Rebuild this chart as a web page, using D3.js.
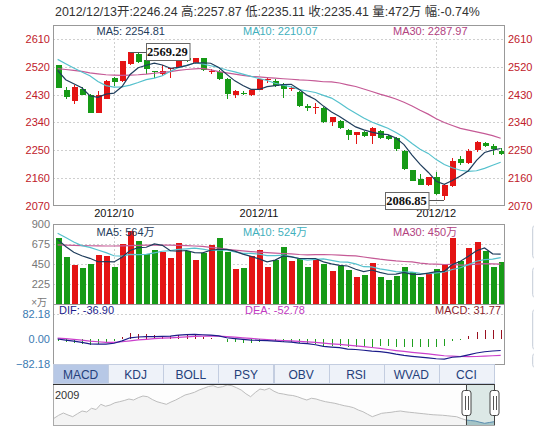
<!DOCTYPE html>
<html>
<head>
<meta charset="utf-8">
<script src="https://cdn.jsdelivr.net/npm/d3@7"></script>
<style>
  body { margin: 0; background: #fff; }
  svg { display: block; }
  text { font-family: "Liberation Sans", Arial, "Noto Sans CJK SC", sans-serif; }
</style>
</head>
<body>
<svg id="chart" width="534" height="429"></svg>
<script>
// ---- daily K-line data ----
const dates = ["2012/09/20","2012/09/21","2012/09/24","2012/09/25","2012/09/26","2012/09/27","2012/09/28",
  "2012/10/08","2012/10/09","2012/10/10","2012/10/11","2012/10/12","2012/10/15","2012/10/16","2012/10/17","2012/10/18","2012/10/19",
  "2012/10/22","2012/10/23","2012/10/24","2012/10/25","2012/10/26","2012/10/29","2012/10/30","2012/10/31",
  "2012/11/01","2012/11/02","2012/11/05","2012/11/06","2012/11/07","2012/11/08","2012/11/09","2012/11/12","2012/11/13","2012/11/14",
  "2012/11/15","2012/11/16","2012/11/19","2012/11/20","2012/11/21","2012/11/22","2012/11/23","2012/11/26","2012/11/27","2012/11/28",
  "2012/11/29","2012/11/30","2012/12/03","2012/12/04","2012/12/05","2012/12/06","2012/12/07","2012/12/10","2012/12/11","2012/12/12","2012/12/13"];

const open = [2525,2445,2408,2447,2427,2371,2417,2482,2475,2530,2562,2541,2506,2495,2512,2518,2549,2531,2547,2504,
  2502,2480,2427,2436,2428,2446,2476,2474,2464,2447,2438,2394,2387,2387,2341,2345,2316,2300,2310,2297,
  2311,2297,2290,2248,2184,2155,2136,2164,2100,2132,2220,2207,2249,2272,2262,2246.24];
const high = [2527,2454,2462,2454,2432,2440,2476,2487,2540,2569.29,2565,2546,2507,2525,2517,2552,2554,2550,2550,2512,
  2508,2482,2445,2441,2446,2481,2484,2481,2468,2458,2441,2400,2401,2389,2358,2348,2318,2310,2313,2323,
  2314,2299,2292,2250,2186,2173,2164,2178,2140,2224,2230,2252,2278,2277,2268,2257.87];
const low = [2450,2416,2400,2427,2370,2370,2415,2456,2470,2525,2533,2497,2482,2490,2484,2515,2537,2528,2505,2496,
  2476,2415,2419,2430,2426,2444,2468,2454,2418,2440,2391,2376,2366,2339,2327,2318,2282,2270,2292,2271,
  2285,2284,2248,2186,2148,2136,2132,2104,2086.85,2130,2200,2205,2245,2260,2235,2235.11];
const close = [2452,2422,2454,2430,2371,2427,2474,2469,2538,2567,2537,2514,2504,2506,2515,2550,2543,2547,2510,2507,
  2480,2433,2441,2434,2445,2479,2479,2458,2449,2451,2393,2385,2391,2342,2356,2320,2298,2308,2294,2321,
  2290,2287,2252,2188,2151,2138,2161,2106,2137,2214,2209,2248,2275,2263.5,2252.1,2235.41];
const prevClose = 2252.1;   // close of the session before the last one

// price moving averages
const ma5 = [2508,2478,2465,2452,2425.8,2420.8,2431.2,2434.2,2455.8,2495,2517,2525,2532,2525.6,2515.2,2517.8,2523.6,2532.2,2533,2531.4,
  2517.4,2495.4,2474.2,2459,2446.6,2446.4,2455.6,2459,2462,2463.2,2446,2427.2,2413.8,2392.4,2373.4,2358.8,2341.4,2324.8,2315.2,2308.2,
  2302.2,2300,2288.8,2267.6,2233.6,2203.2,2178,2148.8,2138.6,2151.2,2165.4,2182.8,2216.6,2241.9,2249.5,2254.81];
const ma10 = [2544,2530,2516,2503,2491,2472,2459,2454,2455,2460.4,2468.9,2478.1,2483.1,2490.7,2505.1,2517.4,2524.3,2532.1,2529.3,2523.3,
  2517.6,2509.5,2503.2,2496,2489,2481.9,2475.5,2466.6,2460.5,2454.9,2446.2,2441.4,2436.4,2427.2,2418.3,2402.4,2384.3,2369.3,2353.8,2340.8,
  2330.5,2320.7,2306.8,2291.4,2270.9,2252.7,2239,2218.8,2203.1,2192.4,2184.3,2180.4,2182.7,2190.3,2200.4,2210.07];
const ma30 = [2514,2511,2508,2505,2500,2497,2494,2493,2492,2493,2494,2496,2499,2502,2504,2508,2511,2513,2515,2510,
  2504,2500,2496,2492,2489,2487,2485,2483,2481,2479.5,2477.6,2476.3,2474.2,2471.3,2470.8,2467.2,2461.4,2456,2447.9,2439.7,
  2431.4,2423.9,2415.5,2404.9,2392.7,2379,2366.3,2351.6,2339.1,2329.4,2320.3,2314.2,2308.6,2303,2296.5,2287.97];

// volume (万) and its moving averages
const volume = [749,532,442,405,453,555,540,420,678,828,716,562,611,592,525,690,600,498,577,671,
  746,592,397,412,540,611,420,498,645,487,521,420,495,457,378,431,386,307,330,468,
  300,273,318,420,363,300,345,397,440,745,487,633,700,595,420,472];
const volMa5 = [730,650,585,545,516,477,479,475,529,604,636,641,679,662,601,596,604,581,578,607,
  618,617,597,564,537,510,476,496,543,532,514,514,514,476,454,436,429,392,366,384,
  358,336,338,356,335,335,349,365,369,445,483,540,601,632,567,564];
const volMa10 = [798,750,700,660,640,610,580,545,540,560,557,560,577,596,603,616,622,630,620,604,
  607,610,589,571,572,564,546,546,553,535,512,495,505,509,493,475,472,453,421,419,
  397,383,365,361,360,347,342,351,362,390,409,445,483,501,506,524];
const volMa30 = [667,665,662,660,658,656,655,655,657,660,662,664,665,665,664,662,660,655,650,640,
  630,618,608,600,592,585,580,575,570,566,559,555,557,559,556,552,547,543,531,519,
  506,496,486,480,475,462,454,450,446,448,439,441,451,457,453,450];

// MACD indicator
const dea = [4,2,0,-3,-6,-8,-10,-10,-8,-5,-2,0,2,4,5,6.5,8,9.5,10.5,11,
  10.5,9,7,5,3,1,-1,-2.5,-4,-5.5,-7,-8.5,-10,-12.5,-15,-17,-19,-21.5,-24,-27,
  -30,-33.5,-37,-40,-43,-45.5,-48,-51,-54,-55.5,-56.5,-57,-56.5,-55.5,-54,-52.78];
const dif = [1,-3,-6,-10,-15,-16,-16,-13,-5,5,7.5,9,9,9.5,10.5,14,15.5,16,15,13.5,
  11,5,2,-0.5,-2.5,-3.5,-4.5,-6,-8,-9.5,-12.5,-14,-18,-23,-25.5,-27.5,-32,-33.5,-36,-39,
  -40.5,-44,-49,-53,-56,-58.5,-61,-64,-65,-59,-57,-51,-45,-41,-38.5,-36.90];
const macd = [-6,-10,-12,-14,-18,-16,-12,-6,6,20,19,18,14,11,11,15,15,13,9,5,
  1,-8,-10,-11,-11,-9,-7,-7,-8,-8,-11,-11,-16,-21,-21,-21,-26,-24,-24,-24,
  -21,-21,-24,-26,-26,-26,-26,-26,-22,-7,-1,12,23,29,31,31.77];

// axis ticks
const priceTicks = [2070, 2160, 2250, 2340, 2430, 2520, 2610];
const volTicks = [225, 450, 675, 900];
const macdTicks = [-82.18, 0, 82.18];

// indicator tabs and long-range navigator history
const tabs = ["MACD", "KDJ", "BOLL", "PSY", "OBV", "RSI", "WVAD", "CCI"];
const activeTab = "MACD";
const navStartYear = "2009";
const navHistory = [2168,2290,2380,2300,2232,2350,2460,2420,2568,2520,2728,2650,2700,2790,2832,2880,2940,2900,2992,3060,
  3032,2920,2832,2780,2728,2820,2900,3000,3100,3150,3208,3300,3368,3440,3472,3400,3432,3500,3472,3390,
  3300,3150,3032,3200,3340,3300,3368,3250,3168,3140,3100,3080,3032,2960,2900,2970,2940,2880,2832,2800,
  2768,2720,2672,2640,2592,2500,2432,2330,2232,2300,2368,2390,2408,2440,2460,2430,2408,2390,2368,2350,
  2328,2310,2300,2290,2272,2250,2232,2160,2100,2080,2060,2010,1968,2000,2032];
const navWindowStart = 88;  // first navHistory point of the zoomed window

// ---- styling ----
const RED = "#e41414", GREEN = "#169a16";
const C_MA5 = "#1f3d5c", C_MA10 = "#55c1cd", C_MA30 = "#c55a96";
const C_DIF = "#1c1c8a", C_DEA = "#cc40cc";
const GRID = "#cfcfcf", BORDER = "#999";
const CJK = '"Liberation Sans", Arial, "Noto Sans CJK SC", sans-serif';

const svg = d3.select("#chart");
const L = 53, R = 505;
const n = dates.length;

const x = d3.scaleBand().domain(d3.range(n)).range([53.6, 504.7]).paddingInner(0.22).paddingOuter(0.11);
const cx = i => x(i) + x.bandwidth() / 2;

const yP = d3.scaleLinear().domain([2070, 2610]).range([205.5, 39]);
const yV = d3.scaleLinear().domain([0, 900]).range([304, 224.3]);
const yM = d3.scaleLinear().domain([-82.18, 82.18]).range([364.3, 314.3]);

const up = i => close[i] >= open[i];
const monthStarts = d3.range(1, n).filter(i => dates[i].slice(0, 7) !== dates[i - 1].slice(0, 7));

// ---- header line ----
const last = n - 1;
const pct = (close[last] - prevClose) / prevClose * 100;
svg.append("text")
  .attr("x", 55).attr("y", 16)
  .attr("font-size", 12.4).attr("fill", "#333")
  .style("font-family", CJK)
  .text(`${dates[last]}开:${open[last].toFixed(2)} 高:${high[last].toFixed(2)} 低:${low[last].toFixed(2)} 收:${close[last].toFixed(2)} 量:${volume[last]}万 幅:${pct.toFixed(2)}%`);

// ---- gridlines ----
function hGrid(scale, ticks) {
  svg.append("g").selectAll("line").data(ticks).join("line")
    .attr("x1", L).attr("x2", R)
    .attr("y1", d => Math.round(scale(d)) + 0.5).attr("y2", d => Math.round(scale(d)) + 0.5)
    .attr("stroke", GRID).attr("stroke-dasharray", "2,2");
}
function vGrid(y0, y1) {
  svg.append("g").selectAll("line").data(monthStarts).join("line")
    .attr("x1", i => Math.round(cx(i)) + 0.5).attr("x2", i => Math.round(cx(i)) + 0.5)
    .attr("y1", y0).attr("y2", y1)
    .attr("stroke", GRID).attr("stroke-dasharray", "2,2");
}
hGrid(yP, priceTicks.slice(1, -1).concat([2610]));
vGrid(26, 205);
hGrid(yV, [225, 450, 675]);
vGrid(225, 304);
hGrid(yM, [82.18]);

// ---- candlesticks ----
const candles = svg.append("g").attr("shape-rendering", "crispEdges");
candles.selectAll("line").data(d3.range(n)).join("line")
  .attr("x1", i => Math.round(cx(i)) + 0.5).attr("x2", i => Math.round(cx(i)) + 0.5)
  .attr("y1", i => yP(high[i])).attr("y2", i => yP(low[i]))
  .attr("stroke", i => up(i) ? RED : GREEN);
candles.selectAll("rect").data(d3.range(n)).join("rect")
  .attr("x", i => Math.round(cx(i)) - 2.5).attr("width", 6)
  .attr("y", i => yP(Math.max(open[i], close[i])))
  .attr("height", i => Math.max(1, yP(Math.min(open[i], close[i])) - yP(Math.max(open[i], close[i]))))
  .attr("fill", i => up(i) ? RED : GREEN);

// price MA lines
const priceLine = d3.line().x((d, i) => cx(i)).y(d => yP(d));
[[ma30, C_MA30], [ma10, C_MA10], [ma5, C_MA5]].forEach(([arr, c]) => {
  svg.append("path").attr("d", priceLine(arr)).attr("fill", "none").attr("stroke", c).attr("stroke-width", 1.2);
});

// ---- volume bars ----
svg.append("g").attr("shape-rendering", "crispEdges")
  .selectAll("rect").data(d3.range(n)).join("rect")
  .attr("x", i => Math.round(cx(i)) - 2.5).attr("width", 6.5)
  .attr("y", i => yV(volume[i])).attr("height", i => yV(0) - yV(volume[i]))
  .attr("fill", i => up(i) ? RED : GREEN);
const volLine = d3.line().x((d, i) => cx(i)).y(d => yV(d));
[[volMa30, C_MA30], [volMa10, C_MA10], [volMa5, C_MA5]].forEach(([arr, c]) => {
  svg.append("path").attr("d", volLine(arr)).attr("fill", "none").attr("stroke", c).attr("stroke-width", 1.2);
});

// ---- MACD ----
svg.append("g").attr("shape-rendering", "crispEdges")
  .selectAll("line").data(d3.range(n)).join("line")
  .attr("x1", i => Math.round(cx(i)) + 0.5).attr("x2", i => Math.round(cx(i)) + 0.5)
  .attr("y1", yM(0)).attr("y2", i => yM(macd[i]))
  .attr("stroke", i => macd[i] >= 0 ? "#9a1020" : "#20a020");
const macdLine = d3.line().x((d, i) => cx(i)).y(d => yM(d));
svg.append("path").attr("d", macdLine(dea)).attr("fill", "none").attr("stroke", C_DEA).attr("stroke-width", 1.2);
svg.append("path").attr("d", macdLine(dif)).attr("fill", "none").attr("stroke", C_DIF).attr("stroke-width", 1.2);

// ---- extreme value markers ----
const iMax = d3.maxIndex(high), iMin = d3.minIndex(low);
const fmtMark = d3.format(".2f");
function marker(i, value, side) {
  const y = yP(value);
  const bw = 43.5, bh = 17;
  const bx = side > 0 ? cx(i) + 15.5 : cx(i) - 16 - bw;
  svg.append("line")
    .attr("x1", cx(i)).attr("x2", side > 0 ? bx : bx + bw)
    .attr("y1", Math.round(y) + 0.5).attr("y2", Math.round(y) + 0.5)
    .attr("stroke", "#555").attr("shape-rendering", "crispEdges");
  svg.append("rect").attr("x", Math.round(bx) + 0.5).attr("y", Math.round(y - bh / 2) + 0.5)
    .attr("width", bw).attr("height", bh).attr("fill", "#fff").attr("stroke", "#666");
  svg.append("text").attr("x", bx + bw / 2).attr("y", y + 4.5).attr("text-anchor", "middle")
    .attr("font-size", 12.5).attr("font-weight", "bold").attr("fill", "#111")
    .style("font-family", '"Liberation Serif", "Times New Roman", serif')
    .text(fmtMark(value));
}

// ---- panel borders ----
const borders = svg.append("g").attr("fill", "none").attr("stroke", BORDER).attr("shape-rendering", "crispEdges");
borders.append("rect").attr("x", L + 0.5).attr("y", 25.5).attr("width", R - L - 1).attr("height", 180);
borders.append("rect").attr("x", L + 0.5).attr("y", 224.5).attr("width", R - L - 1).attr("height", 80);
borders.append("rect").attr("x", L + 0.5).attr("y", 304.5).attr("width", R - L - 1).attr("height", 60);

// ---- axes ----
function styleAxis(g, color, size) {
  g.select(".domain").remove();
  g.selectAll("text").attr("fill", color).attr("font-size", size).style("font-family", CJK);
}
svg.append("g").attr("transform", `translate(${L},0)`)
  .call(d3.axisLeft(yP).tickValues(priceTicks).tickFormat(d3.format("d")).tickSize(0).tickPadding(3))
  .call(g => styleAxis(g, "#c0202a", 11));
svg.append("g").attr("transform", `translate(${R},0)`)
  .call(d3.axisRight(yP).tickValues(priceTicks).tickFormat(d3.format("d")).tickSize(0).tickPadding(3))
  .call(g => styleAxis(g, "#c0202a", 11));
svg.append("g").attr("transform", "translate(0,205.5)")
  .call(d3.axisBottom(x).tickValues(monthStarts).tickFormat(i => dates[i].slice(0, 7)).tickSize(0).tickPadding(4))
  .call(g => styleAxis(g, "#111", 11));
svg.append("g").attr("transform", `translate(${L},0)`)
  .call(d3.axisLeft(yV).tickValues(volTicks).tickFormat(d3.format("d")).tickSize(0).tickPadding(3))
  .call(g => styleAxis(g, "#777", 11));
svg.append("text").attr("x", 47).attr("y", 305.5).attr("text-anchor", "end")
  .attr("font-size", 10).attr("fill", "#777").style("font-family", CJK).text("×万");
svg.append("g").attr("transform", `translate(${L},0)`)
  .call(d3.axisLeft(yM).tickValues(macdTicks).tickFormat(d3.format(".2f")).tickSize(0).tickPadding(3))
  .call(g => styleAxis(g, "#3a7ab2", 11));

marker(iMax, high[iMax], 1);
marker(iMin, low[iMin], -1);

// ---- legends ----
function legend(xPos, y, txt, color, anchor) {
  svg.append("text").attr("x", xPos).attr("y", y).attr("text-anchor", anchor || "start")
    .attr("font-size", 11).attr("fill", color).style("font-family", CJK).text(txt);
}
legend(96.5, 34.5, `MA5: ${ma5[last].toFixed(2)}`, C_MA5);
legend(243, 34.5, `MA10: ${ma10[last].toFixed(2)}`, "#3fb0bd");
legend(393, 34.5, `MA30: ${ma30[last].toFixed(2)}`, "#b2427f");
legend(96.5, 235.5, `MA5: ${volMa5[last]}万`, C_MA5);
legend(243, 235.5, `MA10: ${volMa10[last]}万`, "#3fb0bd");
legend(393, 235.5, `MA30: ${volMa30[last]}万`, "#b2427f");
legend(59, 314, `DIF: ${dif[last].toFixed(2)}`, C_DIF);
legend(245, 314, `DEA: ${dea[last].toFixed(2)}`, "#c23bc2");
legend(501, 314, `MACD: ${macd[last].toFixed(2)}`, "#8c1c2c", "end");

// ---- indicator tabs ----
const tabX = d3.scaleBand().domain(tabs).range([53, 494]);
const tabG = svg.append("g").attr("shape-rendering", "crispEdges");
tabG.selectAll("rect").data(tabs).join("rect")
  .attr("x", d => Math.round(tabX(d)) + 0.5).attr("y", 364.5)
  .attr("width", Math.round(tabX.bandwidth())).attr("height", 19)
  .attr("fill", d => d === activeTab ? "#b7c8e6" : "#eef2f9").attr("stroke", "#c3cde0");
svg.append("g").selectAll("text").data(tabs).join("text")
  .attr("x", d => tabX(d) + tabX.bandwidth() / 2).attr("y", 378.5).attr("text-anchor", "middle")
  .attr("font-size", 12).attr("fill", "#24407a").style("font-family", CJK).text(d => d);

// ---- range navigator ----
const nx = d3.scaleLinear().domain([0, navHistory.length - 1]).range([54, 494]);
const ny = d3.scaleLinear().domain([1900, 3540]).range([425, 384]);
svg.append("rect").attr("x", 53.5).attr("y", 384.5).attr("width", 441).attr("height", 40.5)
  .attr("fill", "#fdfdfd").attr("stroke", "#aaa").attr("shape-rendering", "crispEdges");
const navArea = d3.area().x((d, i) => nx(i)).y0(425).y1(d => ny(d));
const navLine = d3.line().x((d, i) => nx(i)).y(d => ny(d));
svg.append("path").attr("d", navArea(navHistory)).attr("fill", "#f4f4f4");
svg.append("path").attr("d", navLine(navHistory)).attr("fill", "none").attr("stroke", "#bdbdbd").attr("stroke-width", 1);

// zoomed window
const wx0 = nx(navWindowStart), wx1 = 494.3;
svg.append("rect").attr("x", wx0).attr("y", 384.5).attr("width", wx1 - wx0).attr("height", 40.5).attr("fill", "#dce8e6");
const winPts = navHistory.slice(navWindowStart);
const winArea = d3.area().x((d, i) => nx(i + navWindowStart)).y0(425).y1(d => ny(d));
const winLine = d3.line().x((d, i) => nx(i + navWindowStart)).y(d => ny(d));
svg.append("path").attr("d", winArea(winPts)).attr("fill", "#a5c4c6");
svg.append("path").attr("d", winLine(winPts)).attr("fill", "none").attr("stroke", "#5a8db0").attr("stroke-width", 1);
svg.append("line").attr("x1", 53).attr("x2", 494.5).attr("y1", 384.5).attr("y2", 384.5)
  .attr("stroke", "#333").attr("stroke-width", 1.2).attr("shape-rendering", "crispEdges");
svg.append("text").attr("x", 55).attr("y", 399).attr("font-size", 11).attr("fill", "#333").text(navStartYear);

[wx0, wx1].forEach(hx => {
  const hxr = Math.round(hx) + 0.5;
  svg.append("line").attr("x1", hxr).attr("x2", hxr).attr("y1", 384).attr("y2", 425)
    .attr("stroke", "#444").attr("shape-rendering", "crispEdges");
  svg.append("rect").attr("x", hxr - 4.5).attr("y", 390.5).attr("width", 9).attr("height", 25).attr("rx", 2.5)
    .attr("fill", "#fff").attr("stroke", "#444");
  [-1.5, 1.5].forEach(off => {
    svg.append("line").attr("x1", hxr + off).attr("x2", hxr + off).attr("y1", 396).attr("y2", 410)
      .attr("stroke", "#555").attr("shape-rendering", "crispEdges");
  });
});

// side buttons, cut off at the right edge
[[532, 225, 33], [532, 267, 30], [532, 309, 40], [532, 353, 14]].forEach(([bx, by, bh]) => {
  svg.append("rect").attr("x", bx + 0.5).attr("y", by + 0.5).attr("width", 12).attr("height", bh).attr("rx", 3)
    .attr("fill", "#f3f5f8").attr("stroke", "#cfd5de");
});
</script>
</body>
</html>
